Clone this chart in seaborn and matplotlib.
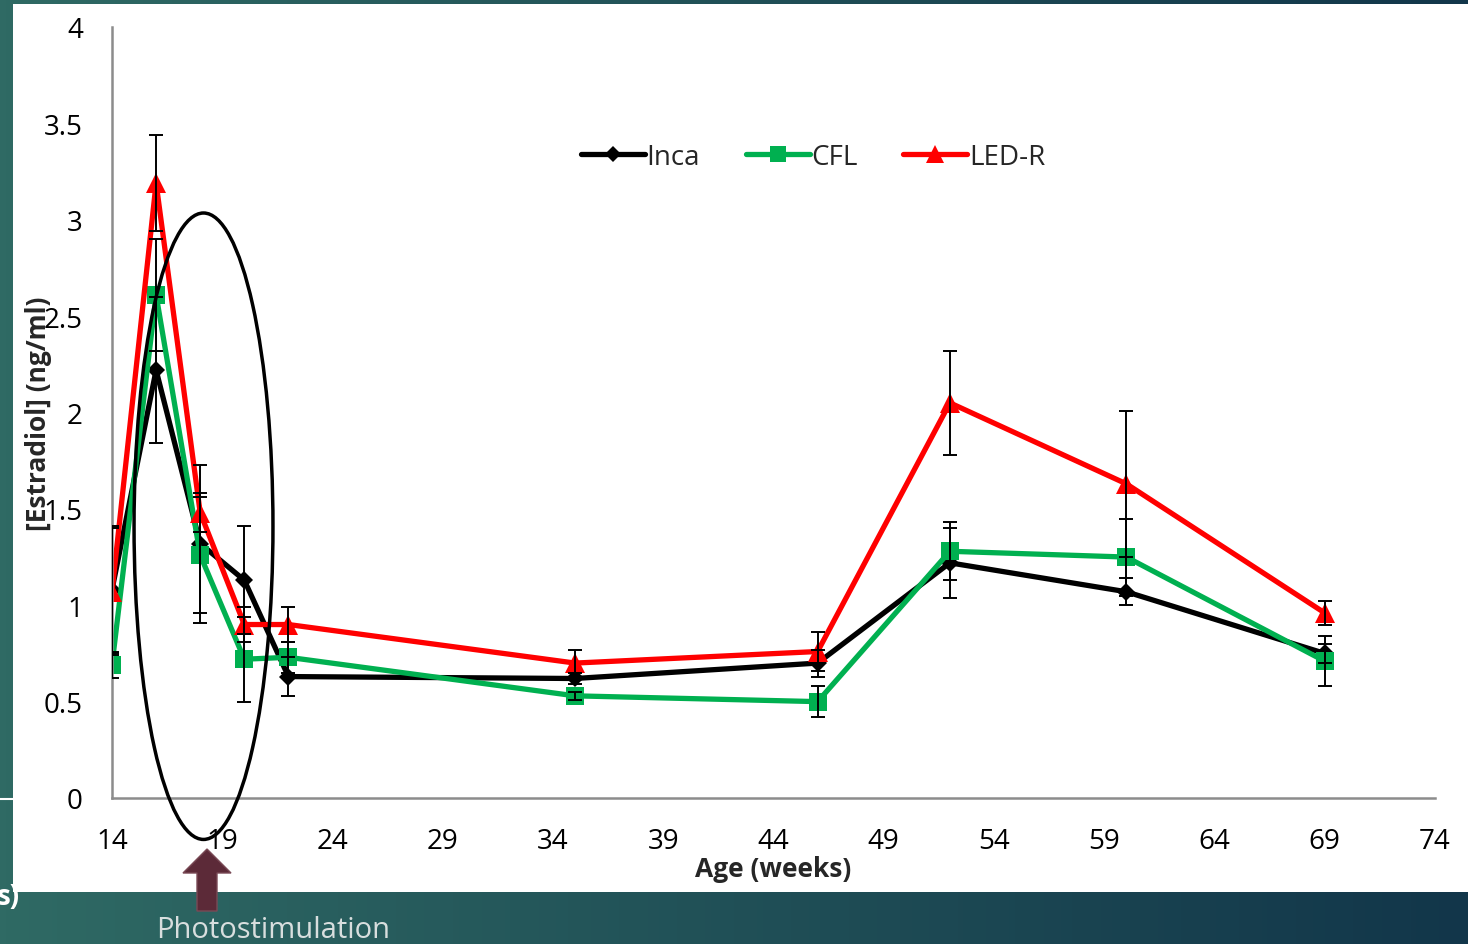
import numpy as np
import pandas as pd
import matplotlib.pyplot as plt
import seaborn as sns
from matplotlib.patches import Ellipse, Rectangle, FancyArrow
from matplotlib.colors import LinearSegmentedColormap

# data
weeks = [14, 16, 18, 20, 22, 35, 46, 52, 60, 69]
inca = [1.08, 2.22, 1.32, 1.13, 0.63, 0.62, 0.70, 1.22, 1.07, 0.75]
cfl = [0.69, 2.61, 1.26, 0.72, 0.73, 0.53, 0.50, 1.28, 1.25, 0.71]
ledr = [1.07, 3.19, 1.48, 0.90, 0.90, 0.70, 0.76, 2.05, 1.63, 0.96]
inca_err = [0.33, 0.38, 0.41, 0.28, 0.10, 0.03, 0.07, 0.18, 0.07, 0.05]
cfl_err = [0.07, 0.29, 0.30, 0.22, 0.08, 0.02, 0.08, 0.15, 0.20, 0.13]
ledr_err = [0.33, 0.25, 0.10, 0.09, 0.09, 0.07, 0.10, 0.27, 0.38, 0.06]
groups = ['Inca', 'CFL', 'LED-R']
colors = {'Inca': '#000000', 'CFL': '#00b050', 'LED-R': '#ff0000'}
markers = {'Inca': 'D', 'CFL': 's', 'LED-R': '^'}
msizes = {'Inca': 9, 'CFL': 13, 'LED-R': 14}

df = pd.DataFrame({
    'Age': weeks * 3,
    'E2': inca + cfl + ledr,
    'err': inca_err + cfl_err + ledr_err,
    'group': [g for g in groups for _ in weeks],
})

sns.set_style('white')
plt.rcParams['font.family'] = ['Open Sans', 'DejaVu Sans']

fig = plt.figure(figsize=(14.68, 9.45), dpi=100)

# slide background gradient + white chart panel
bg = fig.add_axes([0, 0, 1, 1], zorder=-10)
grad = np.linspace(0, 1, 256)[None, :]
bg_cmap = LinearSegmentedColormap.from_list('bg', ['#2f6a64', '#12364a'])
bg.imshow(grad, aspect='auto', cmap=bg_cmap, extent=[0, 1, 0, 1])
bg.set_xlim(0, 1)
bg.set_ylim(0, 1)
bg.axis('off')
bg.add_patch(Rectangle((13 / 1468, 52 / 945), 1, 888 / 945, color='white', lw=0))
bg.plot([0, 13 / 1468], [145 / 945, 145 / 945], color='white', lw=1.5)
bg.text(-0.002, 47 / 945, 's)', color='white', fontsize=20, fontweight='bold',
        va='center', ha='left')

ax = fig.add_axes([112 / 1468, 146 / 945, 1323 / 1468, 771 / 945])
ax.set_facecolor('none')

sns.lineplot(data=df, x='Age', y='E2', hue='group', style='group',
             palette=colors, markers=markers, dashes=False, ax=ax,
             linewidth=3.8, markersize=13, markeredgewidth=0, legend=False)
for line, g in zip(ax.lines[:3], groups):
    line.set_markersize(msizes[g])

for g in groups:
    sub = df[df['group'] == g]
    ax.errorbar(sub['Age'], sub['E2'], yerr=sub['err'], fmt='none',
                ecolor='black', elinewidth=1.4, capsize=5, capthick=1.4, zorder=5)

ax.set_xlim(14, 74)
ax.set_ylim(0, 4)
ax.set_xticks(range(14, 75, 5))
ax.set_yticks([0, 0.5, 1, 1.5, 2, 2.5, 3, 3.5, 4])
ax.set_yticklabels(['0', '0.5', '1', '1.5', '2', '2.5', '3', '3.5', '4'])
for s in ['top', 'right']:
    ax.spines[s].set_visible(False)
for s in ['left', 'bottom']:
    ax.spines[s].set_color('#8c8c8c')
    ax.spines[s].set_linewidth(1.8)
ax.tick_params(axis='both', colors='#8c8c8c', labelcolor='black', labelsize=20,
               length=9, width=1.8, direction='out')
ax.tick_params(axis='y', pad=12)
ax.tick_params(axis='x', pad=12)

ax.set_xlabel('Age (weeks)', fontsize=19, fontweight='bold', labelpad=0)
ax.set_ylabel('[Estradiol] (ng/ml)', fontsize=19, fontweight='bold')
ax.yaxis.set_label_coords(-0.045, 0.50)

# legend
handles = [plt.Line2D([], [], color=colors[g], marker=markers[g], lw=3.8,
                      markersize=msizes[g] - 1, markeredgewidth=0)
           for g in groups]
ax.legend(handles, groups, loc='upper center', bbox_to_anchor=(0.53, 0.882),
          ncol=3, frameon=False, fontsize=20, handlelength=2.3,
          handletextpad=0.05, columnspacing=1.65)

# photostimulation ellipse and arrow
ax.add_patch(Ellipse((18.15, 1.41), 6.3, 3.25, fill=False, ec='black', lw=2.5,
                     clip_on=False, zorder=6))
bg.add_patch(FancyArrow(207 / 1468, 33 / 945, 0, 62 / 945, width=20 / 1468,
                        head_width=48 / 1468, head_length=24 / 945,
                        length_includes_head=True, fc='#5c2a38', ec='#7a4a56', lw=1))
bg.text(273 / 1468, 14 / 945, 'Photostimulation', color='#d8dede', fontsize=21,
        ha='center', va='center')

fig.savefig('out.png', dpi=100)
